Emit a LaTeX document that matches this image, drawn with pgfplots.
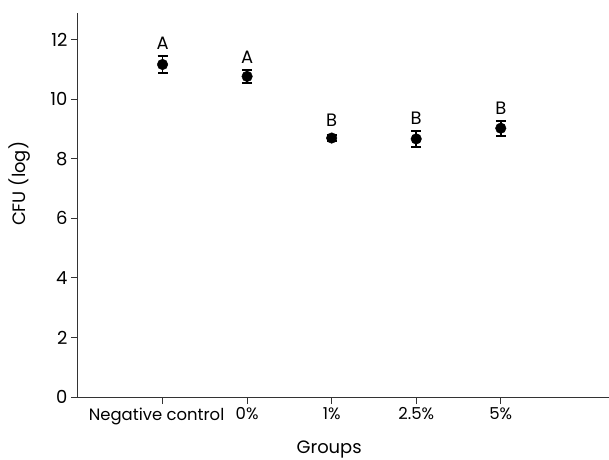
\documentclass[border=0pt]{standalone}
\usepackage{fontspec}
\setmainfont{Poppins}
\usepackage{pgfplots}
\pgfplotsset{compat=1.18}
\begin{document}
\begin{tikzpicture}
\begin{axis}[
  scale only axis, width=531bp, height=384bp,
  xmin=0, xmax=6.28, ymin=0, ymax=12.9,
  axis x line=bottom, axis y line=left,
  axis line style={-, line width=1bp, black!80},
  tick align=outside, major tick length=7bp,
  tick style={line width=1bp, black!80},
  xtick={1,...,5},
  xticklabels={Negative control\hspace*{12bp}, 0\%, 1\%, 2.5\%, 5\%},
  ytick={0,2,...,12},
  font=\fontsize{18}{21}\selectfont,
  yticklabel style={font=\fontsize{18}{21}\selectfont},
  xticklabel style={font=\fontsize{16.5}{20}\selectfont},
  /pgf/number format/assume math mode=true,
  xlabel={Groups}, ylabel={CFU (log)},
  xlabel style={at={(axis description cs:0.473,-0.138)}, anchor=center},
  ylabel style={at={(axis description cs:-0.11,0.555)}, anchor=center},
  clip=false,
]
\addplot[only marks, mark=*, mark size=5.3bp, black,
  error bars/.cd, y dir=both, y explicit,
  error bar style={line width=1.5bp},
  error mark options={rotate=90, mark size=5bp, line width=2bp}]
  coordinates {
    (1, 11.17) +- (0, 0.27)
    (2, 10.77) +- (0, 0.22)
    (3, 8.70)  +- (0, 0.11)
    (4, 8.67)  +- (0, 0.28)
    (5, 9.03)  +- (0, 0.25)
  };
\node[anchor=south, yshift=3bp] at (axis cs:1, 11.44) {A};
\node[anchor=south, yshift=3bp] at (axis cs:2, 10.99) {A};
\node[anchor=south, yshift=5bp] at (axis cs:3, 8.81) {B};
\node[anchor=south, yshift=3bp] at (axis cs:4, 8.95) {B};
\node[anchor=south, yshift=3bp] at (axis cs:5, 9.28) {B};
\end{axis}
\pgfresetboundingbox
\path[use as bounding box] ([shift={(-78bp,-63bp)}]current axis.south west)
  rectangle ([shift={(0bp,13bp)}]current axis.north east);
\end{tikzpicture}
\end{document}
